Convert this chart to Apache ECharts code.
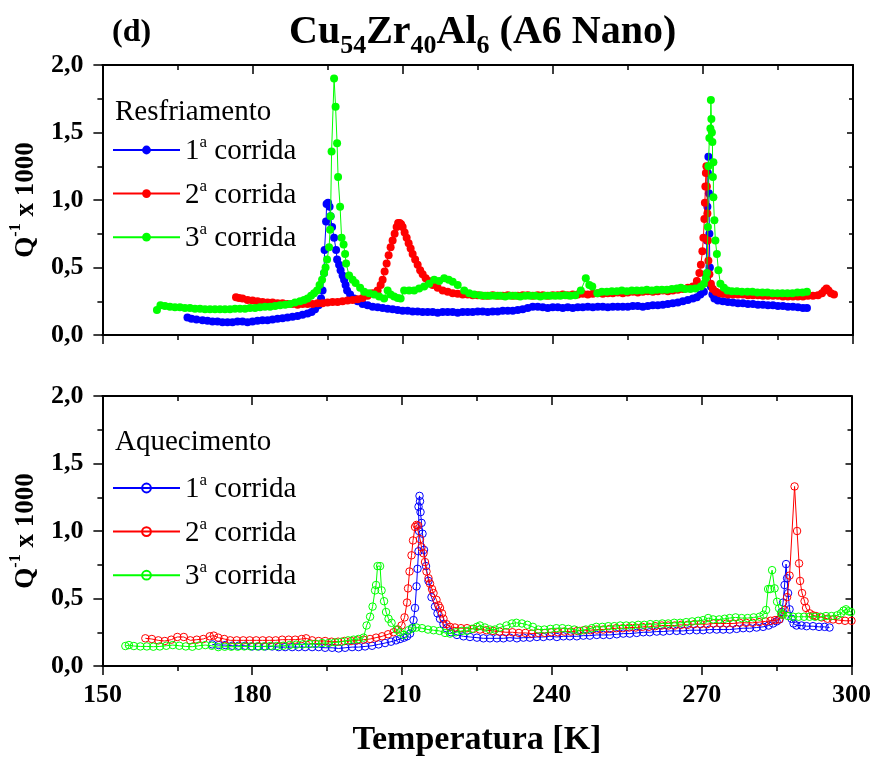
<!DOCTYPE html>
<html>
<head>
<meta charset="utf-8">
<script src="https://cdn.jsdelivr.net/npm/echarts@6/dist/echarts.min.js"></script>
<style>
  html, body { margin: 0; padding: 0; background: #fff; }
  #chart { width: 874px; height: 758px; }
</style>
</head>
<body>
<div id="chart"></div>
<script>
// Internal friction Q^-1 (x1000) against temperature, Cu54Zr40Al6 (A6 Nano)
// Cooling runs (Resfriamento): [T (K), Q^-1 x 1000]
const coolRun1 = [
  [167.0,0.13],[167.8,0.12],[168.8,0.115],[170,0.11],[171,0.105],[172,0.10],[173,0.10],[174,0.095],[175,0.095],[176,0.095],
  [177,0.10],[178,0.10],[179,0.095],[180,0.10],[181,0.105],[182,0.11],[183,0.11],[184,0.115],[185,0.12],[186,0.125],
  [187,0.13],[188,0.135],[189,0.14],[190,0.15],[191,0.16],[191.8,0.17],[192.5,0.19],[193.2,0.22],[193.7,0.27],[194.0,0.33],
  [194.3,0.46],[194.4,0.63],[194.7,0.84],[194.8,0.97],[195.1,0.98],[195.4,0.95],[195.6,0.88],[195.9,0.80],[196.3,0.72],[196.7,0.63],
  [196.9,0.56],[197.3,0.52],[197.6,0.48],[198.0,0.44],[198.3,0.41],[198.6,0.37],[198.9,0.33],[199.5,0.30],[200.3,0.27],[201,0.25],
  [202,0.23],[203,0.22],[204,0.21],[205,0.205],[206,0.20],[207,0.195],[208,0.19],[209,0.185],[210,0.18],[211,0.18],
  [212,0.175],[213,0.175],[214,0.17],[215,0.17],[216,0.17],[217,0.165],[218,0.17],[219,0.17],[220,0.17],[221,0.165],
  [222,0.17],[223,0.17],[224,0.17],[225,0.175],[226,0.175],[227,0.17],[228,0.175],[229,0.175],[230,0.18],[231,0.18],
  [232,0.18],[233,0.185],[234,0.19],[235,0.20],[236,0.21],[237,0.21],[238,0.205],[239,0.20],[240,0.205],[241,0.205],
  [242,0.20],[243,0.205],[244,0.20],[245,0.205],[246,0.205],[247,0.21],[248,0.205],[249,0.21],[250,0.21],[251,0.205],
  [252,0.21],[253,0.21],[254,0.21],[255,0.21],[256,0.215],[257,0.215],[258,0.21],[259,0.215],[260,0.22],[261,0.22],
  [262,0.225],[263,0.23],[264,0.235],[265,0.24],[266,0.25],[267,0.26],[268,0.27],[268.8,0.28],[269.5,0.30],[270.2,0.32],
  [270.6,0.45],[270.8,0.70],[270.9,0.95],[271.0,1.20],[271.1,1.32],[271.2,1.05],[271.3,0.75],[271.4,0.50],[271.6,0.36],[271.9,0.30],
  [272.3,0.27],[273,0.255],[274,0.25],[275,0.245],[276,0.24],[277,0.235],[278,0.235],[279,0.23],[280,0.23],[281,0.225],
  [282,0.225],[283,0.22],[284,0.22],[285,0.215],[286,0.215],[287,0.21],[288,0.21],[289,0.205],[290,0.20],[290.8,0.20]
];
const coolRun2 = [
  [176.7,0.28],[177.3,0.275],[178,0.27],[179,0.26],[180,0.255],[181,0.25],[182,0.245],[183,0.24],[184,0.24],[185,0.235],
  [186,0.235],[187,0.23],[188,0.23],[189,0.225],[190,0.23],[191,0.23],[192,0.23],[193,0.235],[194,0.235],[195,0.24],
  [196,0.245],[197,0.245],[198,0.25],[199,0.255],[200,0.26],[201,0.265],[202,0.275],[203,0.29],[204,0.31],[205,0.33],
  [205.6,0.37],[206,0.41],[206.4,0.47],[206.8,0.53],[207.2,0.59],[207.6,0.65],[208,0.70],[208.4,0.75],[208.8,0.80],[209.1,0.83],
  [209.4,0.83],[209.7,0.82],[210.0,0.80],[210.4,0.76],[210.8,0.72],[211.2,0.68],[211.6,0.64],[212,0.60],[212.5,0.56],[213,0.52],
  [213.5,0.48],[214,0.45],[214.6,0.42],[215.2,0.40],[216,0.37],[217,0.35],[218,0.33],[219,0.32],[220,0.31],[221,0.305],
  [222,0.30],[223,0.30],[224,0.295],[225,0.295],[226,0.29],[227,0.29],[228,0.295],[229,0.29],[230,0.29],[231,0.295],
  [232,0.29],[233,0.29],[234,0.295],[235,0.295],[236,0.29],[237,0.295],[238,0.295],[239,0.29],[240,0.295],[241,0.295],
  [242,0.30],[243,0.295],[244,0.30],[245,0.30],[246,0.305],[247,0.30],[248,0.305],[249,0.31],[250,0.305],[251,0.31],
  [252,0.31],[253,0.315],[254,0.31],[255,0.315],[256,0.32],[257,0.315],[258,0.32],[259,0.325],[260,0.32],[261,0.325],
  [262,0.33],[263,0.325],[264,0.33],[265,0.335],[266,0.34],[267,0.35],[268,0.36],[268.8,0.40],[269.3,0.46],[269.6,0.52],
  [269.9,0.62],[270.1,0.72],[270.3,0.86],[270.4,0.98],[270.5,1.10],[270.6,1.20],[270.7,1.25],[270.8,1.10],[270.9,0.90],[271.0,0.70],
  [271.1,0.55],[271.3,0.45],[271.6,0.38],[272,0.34],[272.6,0.32],[273.4,0.31],[274,0.305],[275,0.30],[276,0.30],[277,0.30],
  [278,0.30],[279,0.295],[280,0.295],[281,0.295],[282,0.29],[283,0.29],[284,0.29],[285,0.29],[286,0.285],[287,0.285],
  [288,0.285],[289,0.285],[290,0.285],[291,0.29],[292,0.29],[293,0.295],[293.8,0.31],[294.3,0.33],[294.7,0.345],[295.1,0.33],
  [295.6,0.31],[296.2,0.30]
];
const coolRun3 = [
  [160.9,0.185],[161.6,0.22],[162.5,0.215],[163.5,0.21],[164.5,0.205],[165.5,0.205],[166.5,0.20],[167.5,0.20],[168.5,0.195],[169.5,0.195],
  [170.5,0.19],[171.5,0.19],[172.5,0.19],[173.5,0.19],[174.5,0.19],[175.5,0.19],[176.5,0.195],[177.5,0.195],[178.5,0.195],[179.5,0.20],
  [180.5,0.20],[181.5,0.205],[182.5,0.21],[183.5,0.21],[184.5,0.215],[185.5,0.22],[186.5,0.225],[187.5,0.23],[188.5,0.24],[189.5,0.25],
  [190.3,0.26],[191,0.27],[191.7,0.29],[192.3,0.31],[192.9,0.33],[193.4,0.37],[193.9,0.41],[194.3,0.46],[194.6,0.50],[194.9,0.56],
  [195.3,0.65],[195.5,0.78],[195.6,0.88],[195.8,1.36],[196.3,1.90],[196.6,1.69],[196.9,1.42],[197.1,1.17],[197.5,0.95],[197.8,0.72],
  [198.2,0.67],[198.5,0.60],[198.7,0.53],[199.3,0.44],[200,0.41],[200.6,0.385],[201.5,0.35],[202.3,0.32],[203.3,0.31],[204.3,0.30],
  [205.3,0.285],[206.3,0.27],[207,0.33],[207.6,0.30],[208.3,0.285],[209,0.275],[209.6,0.27],[210.3,0.33],[211.3,0.33],[212.3,0.33],
  [213.3,0.345],[214.3,0.36],[215.3,0.38],[216.3,0.41],[217.3,0.40],[218.3,0.42],[219.2,0.41],[220,0.395],[221,0.37],[222.3,0.33],
  [223.3,0.31],[224.3,0.30],[225.5,0.295],[226.5,0.29],[227.5,0.29],[228.5,0.29],[229.5,0.29],[230.5,0.285],[231.5,0.29],[232.5,0.29],
  [233.5,0.285],[234.5,0.29],[235.5,0.29],[236.5,0.29],[237.5,0.285],[238.5,0.29],[239.5,0.29],[240.5,0.29],[241.5,0.29],[242.5,0.295],
  [243.5,0.29],[244.5,0.295],[245.6,0.33],[246.6,0.42],[247.3,0.37],[247.9,0.36],[248.9,0.31],[249.8,0.32],[250.8,0.32],[251.8,0.325],
  [252.8,0.325],[253.8,0.33],[254.8,0.325],[255.8,0.33],[256.8,0.33],[257.8,0.33],[258.8,0.335],[259.8,0.33],[260.8,0.335],[261.8,0.335],
  [262.8,0.335],[263.8,0.34],[264.8,0.345],[265.6,0.35],[266.5,0.34],[267.5,0.34],[268.5,0.345],[269.6,0.36],[270.2,0.38],[270.6,0.42],
  [270.8,0.46],[271.0,0.80],[271.1,1.25],[271.3,1.46],[271.5,1.53],[271.6,1.74],[271.7,1.60],[271.8,1.50],[271.9,1.43],[272.0,1.17],
  [272.1,1.28],[272.1,1.02],[272.3,0.85],[272.5,0.70],[272.8,0.60],[273.1,0.48],[273.5,0.38],[274.2,0.35],[274.9,0.33],[275.8,0.325],
  [276.8,0.325],[277.8,0.32],[278.9,0.32],[279.9,0.32],[280.9,0.315],[281.9,0.315],[282.9,0.315],[283.9,0.31],[284.9,0.31],[285.9,0.31],
  [286.9,0.31],[287.9,0.31],[288.9,0.315],[289.9,0.315],[290.8,0.32]
];
// Heating runs (Aquecimento)
const heatRun1 = [
  [172,0.16],[173.3,0.155],[174.6,0.155],[176,0.15],[177.3,0.15],[178.6,0.15],[180,0.145],[181.3,0.145],[182.6,0.145],[184,0.145],
  [185.3,0.14],[186.6,0.14],[188,0.14],[189.3,0.14],[190.6,0.14],[192,0.14],[193.3,0.14],[194.6,0.135],[196,0.135],[197.3,0.13],
  [198.6,0.135],[200,0.14],[201.3,0.14],[202.6,0.145],[204,0.15],[205.3,0.16],[206.6,0.17],[207.8,0.18],[208.8,0.19],[209.6,0.20],
  [210.4,0.21],[211.0,0.22],[211.6,0.24],[212.0,0.28],[212.3,0.34],[212.6,0.43],[212.9,0.59],[213.1,0.72],[213.3,0.85],[213.4,1.00],
  [213.3,1.18],[213.5,1.26],[213.6,1.22],[213.7,1.14],[213.9,1.06],[214.1,0.98],[214.4,0.86],[214.8,0.74],[215.3,0.63],[215.9,0.51],
  [216.6,0.44],[217.1,0.39],[217.6,0.35],[218.3,0.31],[218.9,0.28],[219.8,0.25],[221,0.23],[222.3,0.22],[223.6,0.215],[225,0.21],
  [226.3,0.205],[227.6,0.205],[229,0.205],[230.3,0.205],[231.6,0.21],[233,0.205],[234.3,0.21],[235.6,0.21],[237,0.215],[238.3,0.215],
  [239.6,0.22],[241,0.215],[242.3,0.22],[243.6,0.22],[245,0.22],[246.3,0.225],[247.6,0.225],[249,0.23],[250.3,0.23],[251.6,0.23],
  [253,0.235],[254.3,0.24],[255.6,0.24],[257,0.245],[258.3,0.25],[259.6,0.25],[261,0.255],[262.3,0.255],[263.6,0.26],[265,0.26],
  [266.3,0.26],[267.6,0.265],[269,0.265],[270.3,0.265],[271.6,0.27],[273,0.27],[274.3,0.27],[275.6,0.27],[277,0.275],[278.3,0.28],
  [279.6,0.28],[281,0.285],[282.3,0.29],[283.4,0.30],[284.3,0.315],[285.0,0.33],[285.6,0.345],[286.0,0.40],[286.3,0.47],[286.6,0.60],
  [286.9,0.755],[287.1,0.65],[287.3,0.54],[287.6,0.42],[288.0,0.35],[288.4,0.315],[289,0.30],[290,0.30],[291,0.295],[292.3,0.295],
  [293.5,0.29],[294.6,0.29],[295.6,0.285]
];
const heatRun2 = [
  [158.6,0.205],[159.9,0.20],[161.2,0.19],[162.5,0.185],[163.8,0.195],[165,0.215],[166.3,0.215],[167.6,0.19],[168.9,0.195],[170.2,0.20],
  [171.5,0.22],[172.3,0.225],[173.2,0.21],[174.4,0.20],[175.6,0.19],[176.9,0.19],[178.2,0.19],[179.5,0.19],[180.8,0.19],[182.1,0.19],
  [183.4,0.19],[184.7,0.19],[186,0.195],[187.3,0.195],[188.6,0.195],[189.9,0.20],[190.8,0.205],[192,0.19],[193.3,0.185],[194.6,0.185],
  [195.9,0.18],[197.2,0.18],[198.5,0.185],[199.8,0.185],[201,0.19],[202.3,0.195],[203.6,0.20],[204.8,0.21],[206,0.22],[207.2,0.235],
  [208.3,0.25],[209.2,0.27],[209.9,0.30],[210.5,0.36],[211.0,0.47],[211.2,0.575],[211.5,0.70],[211.9,0.82],[212.2,0.93],[212.6,1.03],
  [212.9,1.045],[213.2,1.04],[213.6,0.94],[213.9,0.88],[214.3,0.835],[214.6,0.77],[214.9,0.70],[215.3,0.65],[215.6,0.61],[216.0,0.57],
  [216.3,0.54],[216.9,0.49],[217.3,0.45],[217.6,0.43],[218.0,0.39],[218.3,0.35],[218.9,0.31],[219.6,0.29],[220.6,0.285],[221.8,0.28],
  [223,0.28],[224.3,0.275],[225.6,0.27],[226.9,0.265],[228.2,0.26],[229.5,0.255],[230.8,0.25],[232.1,0.25],[233.4,0.245],[234.7,0.245],
  [236,0.24],[237.3,0.245],[238.6,0.245],[239.9,0.25],[241.2,0.25],[242.5,0.255],[243.8,0.255],[245.1,0.26],[246.4,0.265],[247.7,0.265],
  [249,0.27],[250.3,0.27],[251.6,0.275],[252.9,0.28],[254.2,0.28],[255.5,0.285],[256.8,0.285],[258.1,0.29],[259.4,0.29],[260.7,0.295],
  [262,0.30],[263.3,0.30],[264.6,0.30],[265.9,0.305],[267.2,0.305],[268.5,0.31],[269.8,0.31],[271.1,0.31],[272.4,0.315],[273.7,0.315],
  [275,0.315],[276.3,0.315],[277.6,0.32],[278.9,0.32],[280.2,0.32],[281.5,0.325],[282.8,0.33],[283.8,0.335],[284.7,0.34],[285.5,0.345],
  [286.1,0.38],[286.6,0.415],[287.1,0.51],[287.6,0.67],[288.6,1.33],[289.1,1.0],[289.5,0.76],[289.7,0.63],[290.1,0.54],[290.6,0.48],
  [290.9,0.43],[291.6,0.39],[292.3,0.375],[292.9,0.37],[294,0.36],[295.2,0.35],[296.3,0.345],[297.5,0.34],[298.7,0.335],[300,0.335]
];
const heatRun3 = [
  [154.6,0.148],[155.3,0.155],[156.3,0.148],[157.6,0.145],[158.9,0.145],[160.2,0.143],[161.5,0.145],[162.8,0.15],[164.1,0.155],[165.4,0.15],
  [166.7,0.145],[168,0.143],[169.3,0.15],[170.6,0.155],[171.9,0.15],[173.2,0.14],[174.5,0.143],[175.8,0.143],[177.1,0.143],[178.4,0.145],
  [179.7,0.145],[181,0.145],[182.3,0.145],[183.6,0.148],[184.9,0.148],[186.2,0.15],[187.5,0.155],[188.8,0.158],[190.1,0.16],[191.4,0.163],
  [192.7,0.165],[194,0.17],[195.3,0.17],[196.6,0.175],[197.9,0.18],[199.2,0.19],[200.3,0.195],[201.3,0.20],[202.3,0.21],[202.9,0.30],
  [203.6,0.365],[204.1,0.44],[204.6,0.56],[204.8,0.60],[205.1,0.74],[205.6,0.74],[205.9,0.56],[206.4,0.48],[206.8,0.40],[207.3,0.35],
  [207.9,0.32],[208.9,0.27],[209.6,0.25],[210.3,0.23],[211.3,0.265],[212.1,0.28],[212.9,0.285],[214,0.28],[215.2,0.27],[216.3,0.265],
  [217.5,0.26],[218.6,0.245],[219.6,0.24],[220.8,0.25],[222,0.26],[223,0.26],[224,0.275],[225,0.29],[225.6,0.30],[226.6,0.285],
  [227.6,0.27],[228.6,0.27],[229.6,0.285],[230.9,0.30],[232,0.315],[232.9,0.32],[234,0.315],[235.1,0.305],[236.2,0.29],[237.3,0.27],
  [238.5,0.27],[239.7,0.275],[240.9,0.28],[242.1,0.28],[243.3,0.275],[244.5,0.27],[245.6,0.26],[246.8,0.27],[248,0.28],[248.9,0.29],
  [250.1,0.29],[251.3,0.295],[252.5,0.295],[253.7,0.30],[254.9,0.30],[256.1,0.30],[257.3,0.305],[258.5,0.305],[259.7,0.31],[260.9,0.31],
  [262.1,0.315],[263.3,0.315],[264.5,0.32],[265.7,0.32],[266.9,0.325],[268.1,0.33],[269.3,0.335],[270.3,0.34],[271.3,0.355],[272.3,0.345],
  [273.5,0.345],[274.6,0.35],[275.6,0.355],[276.8,0.36],[278,0.355],[279.2,0.355],[280.4,0.36],[281.6,0.365],[282.4,0.38],[282.9,0.415],
  [283.3,0.57],[283.7,0.57],[284.1,0.71],[284.6,0.575],[285.1,0.476],[285.5,0.427],[285.9,0.39],[286.3,0.38],[287.3,0.37],[288.3,0.365],
  [289.4,0.365],[290.5,0.365],[291.6,0.365],[292.7,0.365],[293.8,0.365],[294.9,0.37],[296,0.37],[297.1,0.375],[297.9,0.39],[298.4,0.41],
  [298.9,0.42],[299.4,0.405],[299.9,0.40]
];
const runNumbers = ['1', '2', '3'];
const runColors = ['#0000ff', '#ff0000', '#00ff00'];
const panelTitles = ['Resfriamento', 'Aquecimento'];
const xRange = { min: 150, max: 300, step: 30 };
const yRange = { min: 0, max: 2, step: 0.5 };

const FONT = '"Liberation Serif", "Times New Roman", serif';
const chart = echarts.init(document.getElementById('chart'), null, { renderer: 'canvas' });

const coolSets = [coolRun1, coolRun2, coolRun3];
const heatSets = [heatRun1, heatRun2, heatRun3];

const grids = [
  { left: 102, right: 21, top: 65, height: 270 },
  { left: 102, right: 21, top: 396, height: 270 }
];

const axisLine = { show: true, onZero: false, lineStyle: { color: '#000', width: 2 } };

function xAxes(gi, withLabels) {
  const base = {
    type: 'value', gridIndex: gi, min: xRange.min, max: xRange.max, interval: xRange.step,
    splitLine: { show: false }, axisLine: axisLine
  };
  return [
    Object.assign({}, base, {
      position: 'bottom',
      axisTick: { show: true, length: 9, lineStyle: { color: '#000', width: 1.5 } },
      minorTick: { show: true, splitNumber: 2, length: 5, lineStyle: { color: '#000', width: 1.5 } },
      axisLabel: { show: withLabels, margin: 16, color: '#000', fontFamily: FONT, fontWeight: 'bold', fontSize: 26 },
      name: withLabels ? 'Temperatura [K]' : '',
      nameLocation: 'middle', nameGap: 57,
      nameTextStyle: { color: '#000', fontFamily: FONT, fontWeight: 'bold', fontSize: 34 }
    }),
    Object.assign({}, base, {
      position: 'top',
      axisTick: { show: true, inside: true, length: 9, lineStyle: { color: '#000', width: 1.5 } },
      minorTick: { show: true, splitNumber: 2, length: 5, lineStyle: { color: '#000', width: 1.5 } },
      axisLabel: { show: false }
    })
  ];
}

function yAxes(gi) {
  const base = {
    type: 'value', gridIndex: gi, min: yRange.min, max: yRange.max, interval: yRange.step,
    splitLine: { show: false }, axisLine: axisLine
  };
  return [
    Object.assign({}, base, {
      position: 'left',
      axisTick: { show: true, length: 9, lineStyle: { color: '#000', width: 1.5 } },
      minorTick: { show: true, splitNumber: 2, length: 5, lineStyle: { color: '#000', width: 1.5 } },
      axisLabel: {
        show: true, margin: 19, color: '#000', fontFamily: FONT, fontWeight: 'bold', fontSize: 26,
        formatter: v => v.toFixed(1).replace('.', ',')
      },
      name: '{q|Q}{p|-1}{q| x 1000}',
      nameLocation: 'middle', nameRotate: 90, nameGap: 56,
      nameTextStyle: {
        color: '#000', fontFamily: FONT, fontWeight: 'bold', fontSize: 27,
        rich: {
          q: { fontFamily: FONT, fontWeight: 'bold', fontSize: 27, lineHeight: 32, verticalAlign: 'bottom', color: '#000' },
          p: { fontFamily: FONT, fontWeight: 'bold', fontSize: 16, lineHeight: 16, verticalAlign: 'top', color: '#000' }
        }
      }
    }),
    Object.assign({}, base, {
      position: 'right',
      axisTick: { show: true, inside: true, length: 6, lineStyle: { color: '#000', width: 1.5 } },
      minorTick: { show: true, splitNumber: 2, length: 4, lineStyle: { color: '#000', width: 1.5 } },
      axisLabel: { show: false }
    })
  ];
}

const series = [];
coolSets.forEach((d, i) => {
  series.push({
    name: 'cool' + runNumbers[i], type: 'line', xAxisIndex: 0, yAxisIndex: 0,
    data: d, symbol: 'circle', symbolSize: 8, showAllSymbol: true,
    itemStyle: { color: runColors[i] },
    lineStyle: { color: runColors[i], width: 1 },
    z: 2 + i, silent: true
  });
});
heatSets.forEach((d, i) => {
  series.push({
    name: 'heat' + runNumbers[i], type: 'line', xAxisIndex: 2, yAxisIndex: 2,
    data: d, symbol: 'circle', symbolSize: 7.5, showAllSymbol: true,
    itemStyle: { color: 'rgba(255,255,255,0)', borderColor: runColors[i], borderWidth: 1 },
    lineStyle: { color: runColors[i], width: 1 },
    z: 2 + i, silent: true
  });
});

const legendRich = {
  n: { fontFamily: FONT, fontSize: 29, lineHeight: 32, verticalAlign: 'bottom', color: '#000' },
  s: { fontFamily: FONT, fontSize: 17, lineHeight: 17, verticalAlign: 'top', color: '#000' }
};
function legendFor(prefix, top) {
  return {
    data: runNumbers.map(n => prefix + n),
    orient: 'vertical', left: 112, top: top, padding: 0,
    itemWidth: 67, itemHeight: 11, itemGap: 11.6,
    selectedMode: false,
    formatter: name => '{n|' + name.slice(-1) + '}{s|a}{n| corrida}',
    textStyle: { fontFamily: FONT, fontSize: 29, color: '#000', rich: legendRich }
  };
}

const headerText = { fontFamily: FONT, fontSize: 29, fill: '#000' };

chart.setOption({
  animation: false,
  backgroundColor: '#fff',
  title: [
    {
      text: '(d)', left: 112, top: 17, padding: 0,
      textStyle: { fontFamily: FONT, fontWeight: 'bold', fontSize: 32, color: '#000' }
    },
    {
      text: '{m|Cu}{s|54}{m|Zr}{s|40}{m|Al}{s|6}{m| (A6 Nano)}',
      left: 289, top: 13, padding: 0,
      textStyle: {
        fontFamily: FONT, fontWeight: 'bold', fontSize: 40, color: '#000',
        rich: {
          m: { fontFamily: FONT, fontWeight: 'bold', fontSize: 40, lineHeight: 40, verticalAlign: 'top', color: '#000' },
          s: { fontFamily: FONT, fontWeight: 'bold', fontSize: 26, lineHeight: 46, verticalAlign: 'bottom', color: '#000' }
        }
      }
    }
  ],
  grid: grids,
  xAxis: xAxes(0, false).concat(xAxes(1, true)),
  yAxis: yAxes(0).concat(yAxes(1)),
  legend: [legendFor('cool', 134), legendFor('heat', 472)],
  graphic: [
    { type: 'text', x: 115, y: 112, style: Object.assign({ text: panelTitles[0], verticalAlign: 'middle' }, headerText) },
    { type: 'text', x: 115, y: 442, style: Object.assign({ text: panelTitles[1], verticalAlign: 'middle' }, headerText) }
  ],
  series: series
});
</script>
</body>
</html>
